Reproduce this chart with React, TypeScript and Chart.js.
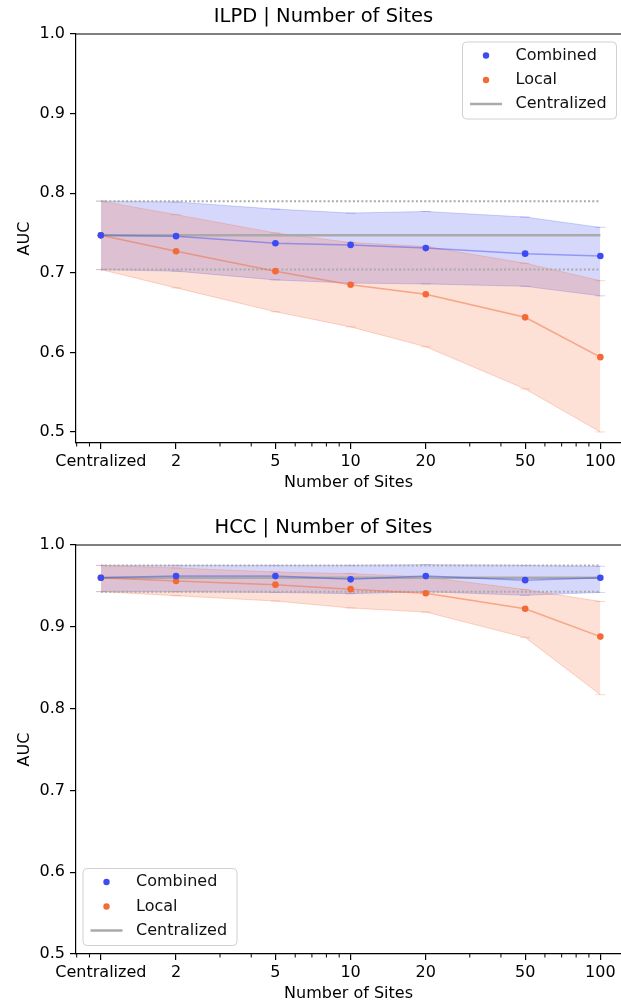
import React, { useEffect, useRef } from "react";
import { Chart, registerables } from "chart.js";
Chart.register(...registerables);

// ---- data ----
const sites = [1, 2, 5, 10, 20, 50, 100];
const siteLabels = ["Centralized", "2", "5", "10", "20", "50", "100"];
const minorSites = [0.8, 0.9, 3, 4, 6, 7, 8, 9, 30, 40, 60, 70, 80, 90];
const aucTicks = [0.5, 0.6, 0.7, 0.8, 0.9, 1.0];
const centralSpan = [1, 100];

const ilpdCentral = [0.747, 0.747];
const ilpdCentralUpper = [0.79, 0.79];
const ilpdCentralLower = [0.704, 0.704];
const ilpdCombined = [0.747, 0.746, 0.737, 0.735, 0.731, 0.724, 0.721];
const ilpdCombinedUpper = [0.79, 0.789, 0.78, 0.775, 0.777, 0.77, 0.757];
const ilpdCombinedLower = [0.704, 0.702, 0.691, 0.687, 0.686, 0.683, 0.671];
const ilpdLocal = [0.747, 0.727, 0.702, 0.685, 0.673, 0.644, 0.594];
const ilpdLocalUpper = [0.79, 0.773, 0.75, 0.738, 0.733, 0.712, 0.69];
const ilpdLocalLower = [0.704, 0.681, 0.651, 0.632, 0.607, 0.554, 0.5];

const hccCentral = [0.96, 0.96];
const hccCentralUpper = [0.975, 0.975];
const hccCentralLower = [0.943, 0.943];
const hccCombined = [0.96, 0.962, 0.962, 0.958, 0.962, 0.957, 0.96];
const hccCombinedUpper = [0.975, 0.975, 0.975, 0.975, 0.976, 0.975, 0.974];
const hccCombinedLower = [0.943, 0.943, 0.942, 0.9405, 0.943, 0.9385, 0.942];
const hccLocal = [0.96, 0.956, 0.9515, 0.946, 0.941, 0.922, 0.888];
const hccLocalUpper = [0.975, 0.972, 0.967, 0.965, 0.961, 0.9455, 0.931];
const hccLocalLower = [0.943, 0.938, 0.9315, 0.923, 0.918, 0.887, 0.817];

const legendLabels = ["Combined", "Local", "Centralized"];

// ---- styles ----
const FONT = "'DejaVu Sans', sans-serif";
const BLUE = "rgb(60,76,242)";
const ORANGE = "rgb(243,106,56)";
const BLUE_LINE = "rgba(60,76,242,0.45)";
const ORANGE_LINE = "rgba(243,106,56,0.5)";
const BLUE_FILL = "rgba(50,62,236,0.2)";
const ORANGE_FILL = "rgba(245,100,50,0.2)";
const BLUE_EDGE = "rgba(50,62,236,0.22)";
const ORANGE_EDGE = "rgba(245,100,50,0.25)";
const GRAY = "#aaaaaa";

type PanelProps = {
  title: string;
  yMin: number;
  central: number[];
  centralUpper: number[];
  centralLower: number[];
  combined: number[];
  combinedUpper: number[];
  combinedLower: number[];
  local: number[];
  localUpper: number[];
  localLower: number[];
  legendPos: { x: number; y: number };
};

const pts = (xs: number[], ys: number[]) => xs.map((x, i) => ({ x, y: ys[i] }));

function Panel(p: PanelProps) {
  const ref = useRef<HTMLCanvasElement | null>(null);
  useEffect(() => {
    if (!ref.current) return;
    const band = (ys: number[], edge: string, fill: any, bg: string, order: number) => ({
      data: pts(sites, ys),
      borderColor: edge,
      borderWidth: 1,
      backgroundColor: bg,
      fill,
      pointStyle: "line",
      pointRadius: 5,
      pointBorderWidth: 1,
      pointBorderColor: edge,
      order,
    });
    const decor = {
      id: "decor",
      afterDraw(chart: any) {
        const ctx = chart.ctx;
        const a = chart.chartArea;
        const xs = chart.scales.x;
        ctx.save();
        // top spine
        ctx.strokeStyle = "#000";
        ctx.lineWidth = 1.2;
        ctx.beginPath();
        ctx.moveTo(a.left, a.top);
        ctx.lineTo(a.right, a.top);
        ctx.stroke();
        // minor ticks
        ctx.lineWidth = 1;
        minorSites.forEach((v) => {
          const px = xs.getPixelForValue(v);
          if (px < a.left - 0.5 || px > a.right) return;
          ctx.beginPath();
          ctx.moveTo(px, a.bottom);
          ctx.lineTo(px, a.bottom + 3.5);
          ctx.stroke();
        });
        // title
        ctx.fillStyle = "#000";
        ctx.font = `19.5px ${FONT}`;
        ctx.textAlign = "center";
        ctx.textBaseline = "middle";
        ctx.fillText(p.title, 323.5, 17);
        // legend
        const lx = p.legendPos.x, ly = p.legendPos.y, w = 154, h = 77;
        ctx.fillStyle = "rgba(255,255,255,0.8)";
        ctx.strokeStyle = "#d0d0d0";
        ctx.lineWidth = 1;
        ctx.beginPath();
        (ctx as any).roundRect(lx + 0.5, ly + 0.5, w, h, 4);
        ctx.fill();
        ctx.stroke();
        const rows = [ly + 14, ly + 38.5, ly + 62.5];
        ctx.fillStyle = BLUE;
        ctx.beginPath();
        ctx.arc(lx + 24, rows[0], 3.2, 0, Math.PI * 2);
        ctx.fill();
        ctx.fillStyle = ORANGE;
        ctx.beginPath();
        ctx.arc(lx + 24, rows[1], 3.2, 0, Math.PI * 2);
        ctx.fill();
        ctx.strokeStyle = GRAY;
        ctx.lineWidth = 2.5;
        ctx.beginPath();
        ctx.moveTo(lx + 8, rows[2]);
        ctx.lineTo(lx + 40, rows[2]);
        ctx.stroke();
        ctx.fillStyle = "#111";
        ctx.font = `16px ${FONT}`;
        ctx.textAlign = "left";
        ctx.textBaseline = "middle";
        legendLabels.forEach((t, i) => ctx.fillText(t, lx + 53.5, rows[i]));
        ctx.restore();
      },
    };
    const chart = new Chart(ref.current, {
      type: "line",
      data: {
        datasets: [
          {
            data: pts(sites, p.combined),
            borderColor: BLUE_LINE,
            borderWidth: 1.5,
            pointRadius: 3.3,
            pointBackgroundColor: BLUE,
            pointBorderWidth: 0,
            fill: false,
            order: 0,
          },
          {
            data: pts(sites, p.local),
            borderColor: ORANGE_LINE,
            borderWidth: 1.5,
            pointRadius: 3.3,
            pointBackgroundColor: ORANGE,
            pointBorderWidth: 0,
            fill: false,
            order: 1,
          },
          {
            data: pts(centralSpan, p.central),
            borderColor: GRAY,
            borderWidth: 2.5,
            pointRadius: 0,
            fill: false,
            order: 2,
          },
          {
            data: pts(centralSpan, p.centralUpper),
            borderColor: GRAY,
            borderWidth: 2,
            borderDash: [2, 2.2],
            pointRadius: 0,
            fill: false,
            order: 3,
          },
          {
            data: pts(centralSpan, p.centralLower),
            borderColor: GRAY,
            borderWidth: 2,
            borderDash: [2, 2.2],
            pointRadius: 0,
            fill: false,
            order: 3,
          },
          band(p.localUpper, ORANGE_EDGE, false, ORANGE_FILL, 4),
          band(p.localLower, ORANGE_EDGE, 5, ORANGE_FILL, 4),
          band(p.combinedUpper, BLUE_EDGE, false, BLUE_FILL, 5),
          band(p.combinedLower, BLUE_EDGE, 7, BLUE_FILL, 5),
        ] as any,
      },
      options: {
        responsive: false,
        animation: false,
        layout: { autoPadding: false, padding: { top: 34, left: 0, right: 0, bottom: 0 } },
        plugins: { legend: { display: false }, tooltip: { enabled: false }, title: { display: false } },
        scales: {
          x: {
            type: "logarithmic",
            min: 0.795,
            max: 121,
            afterBuildTicks: (s: any) => {
              s.ticks = sites.map((v) => ({ value: v }));
            },
            afterFit: (s: any) => {
              s.height = 57;
              s.paddingLeft = 0;
              s.paddingRight = 0;
            },
            ticks: {
              autoSkip: false,
              maxRotation: 0,
              minRotation: 0,
              padding: 3,
              color: "#000",
              font: { family: FONT, size: 16 },
              callback: (v: any) => {
                const i = sites.indexOf(Number(v));
                return i >= 0 ? siteLabels[i] : "";
              },
            },
            grid: { display: true, drawOnChartArea: false, drawTicks: true, tickLength: 6, color: "#000", lineWidth: 1.2 },
            border: { display: true, color: "#000", width: 1.2 },
            title: {
              display: true,
              text: "Number of Sites",
              color: "#000",
              font: { family: FONT, size: 16 },
              padding: { top: 0, bottom: 7.4 },
            },
          },
          y: {
            type: "linear",
            min: p.yMin,
            max: 1.0,
            afterBuildTicks: (s: any) => {
              s.ticks = aucTicks.map((v) => ({ value: v }));
            },
            afterFit: (s: any) => {
              s.width = 76;
              s.paddingTop = 0;
              s.paddingBottom = 0;
            },
            ticks: {
              padding: 5,
              color: "#000",
              font: { family: FONT, size: 16 },
              callback: (v: any) => Number(v).toFixed(1),
            },
            grid: { display: true, drawOnChartArea: false, drawTicks: true, tickLength: 6, color: "#000", lineWidth: 1.2 },
            border: { display: true, color: "#000", width: 1.2 },
            title: {
              display: true,
              text: "AUC",
              color: "#000",
              font: { family: FONT, size: 16 },
              padding: { top: 15, bottom: 0 },
            },
          },
        },
      } as any,
      plugins: [decor],
    });
    return () => chart.destroy();
  }, []);
  return <canvas ref={ref} width={621} height={500} style={{ display: "block" }} />;
}

export default function App() {
  return (
    <div style={{ position: "fixed", left: 0, top: 0, width: 621, height: 1004, overflow: "hidden", background: "#fff" }}>
      <div style={{ position: "absolute", left: 0, top: 0 }}>
        <Panel
          title="ILPD | Number of Sites"
          yMin={0.4861}
          central={ilpdCentral}
          centralUpper={ilpdCentralUpper}
          centralLower={ilpdCentralLower}
          combined={ilpdCombined}
          combinedUpper={ilpdCombinedUpper}
          combinedLower={ilpdCombinedLower}
          local={ilpdLocal}
          localUpper={ilpdLocalUpper}
          localLower={ilpdLocalLower}
          legendPos={{ x: 462, y: 41.5 }}
        />
      </div>
      <div style={{ position: "absolute", left: 0, top: 511 }}>
        <Panel
          title="HCC | Number of Sites"
          yMin={0.5}
          central={hccCentral}
          centralUpper={hccCentralUpper}
          centralLower={hccCentralLower}
          combined={hccCombined}
          combinedUpper={hccCombinedUpper}
          combinedLower={hccCombinedLower}
          local={hccLocal}
          localUpper={hccLocalUpper}
          localLower={hccLocalLower}
          legendPos={{ x: 82.5, y: 357 }}
        />
      </div>
    </div>
  );
}
